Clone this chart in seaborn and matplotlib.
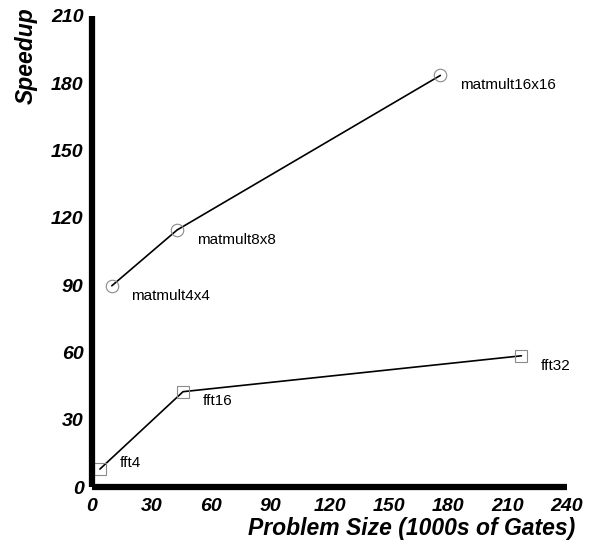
import matplotlib
matplotlib.use("Agg")
import matplotlib.pyplot as plt
import seaborn as sns
import pandas as pd

# ---- data ----
fft_labels = ["fft4", "fft16", "fft32"]
fft_size = [4, 46, 217]
fft_speedup = [8, 42.5, 58.5]

mat_labels = ["matmult4x4", "matmult8x8", "matmult16x16"]
mat_size = [10, 43, 176]
mat_speedup = [89.7, 114.6, 183.5]

x_ticks = [0, 30, 60, 90, 120, 150, 180, 210, 240]
y_ticks = [0, 30, 60, 90, 120, 150, 180, 210]

sns.set_style("white")
plt.rcParams["font.family"] = ["Liberation Sans", "DejaVu Sans"]
plt.rcParams["text.color"] = "black"
plt.rcParams["axes.labelcolor"] = "black"
plt.rcParams["xtick.color"] = "black"
plt.rcParams["ytick.color"] = "black"
plt.rcParams["xtick.labelcolor"] = "black"
plt.rcParams["ytick.labelcolor"] = "black"

fig = plt.figure(figsize=(5.94, 5.46), dpi=100)
ax = fig.add_axes([92 / 594, 1 - 487 / 546, 475 / 594, 471 / 546])

df_fft = pd.DataFrame({"size": fft_size, "speedup": fft_speedup, "label": fft_labels})
df_mat = pd.DataFrame({"size": mat_size, "speedup": mat_speedup, "label": mat_labels})

common = dict(color="black", linewidth=1.2, markersize=9, markerfacecolor="none",
              markeredgecolor="#8a8a8a", markeredgewidth=0.8, ax=ax, sort=False)
sns.lineplot(data=df_mat, x="size", y="speedup", marker="o", **common)
sns.lineplot(data=df_fft, x="size", y="speedup", marker="s", **common)

for df in (df_mat, df_fft):
    for _, r in df.iterrows():
        dy = 4.5 if r["label"] == "fft4" else -7
        ax.annotate(r["label"], (r["size"], r["speedup"]), xytext=(14, dy),
                    textcoords="offset points", ha="left", va="center",
                    fontsize=11, color="black")

ax.set_xlim(0, 240)
ax.set_ylim(0, 210)
ax.set_xticks(x_ticks)
ax.set_yticks(y_ticks)
ax.set_xticklabels([str(v) for v in x_ticks])
ax.set_yticklabels([str(v) for v in y_ticks])

for lab in ax.get_xticklabels() + ax.get_yticklabels():
    lab.set_fontweight("bold")
    lab.set_fontstyle("italic")
    lab.set_fontsize(14)
    lab.set_color("black")

ax.tick_params(direction="in", length=6.5, width=1, color="black", pad=6)
ax.tick_params(axis="x", pad=8)

for s in ("top", "right"):
    ax.spines[s].set_visible(False)
for s in ("left", "bottom"):
    ax.spines[s].set_linewidth(4.5)
    ax.spines[s].set_color("black")
    ax.spines[s].set_capstyle("butt")

ax.set_xlabel("Problem Size (1000s of Gates)", fontsize=16.5, fontweight="bold",
              fontstyle="italic", loc="right", color="black")
ax.xaxis.set_label_coords(1.017, -0.064)
ax.set_ylabel("Speedup", fontsize=16.5, fontweight="bold", fontstyle="italic",
              loc="top", color="black")
ax.yaxis.set_label_coords(-0.114, 1.018)

fig.savefig("out.png", dpi=100)
